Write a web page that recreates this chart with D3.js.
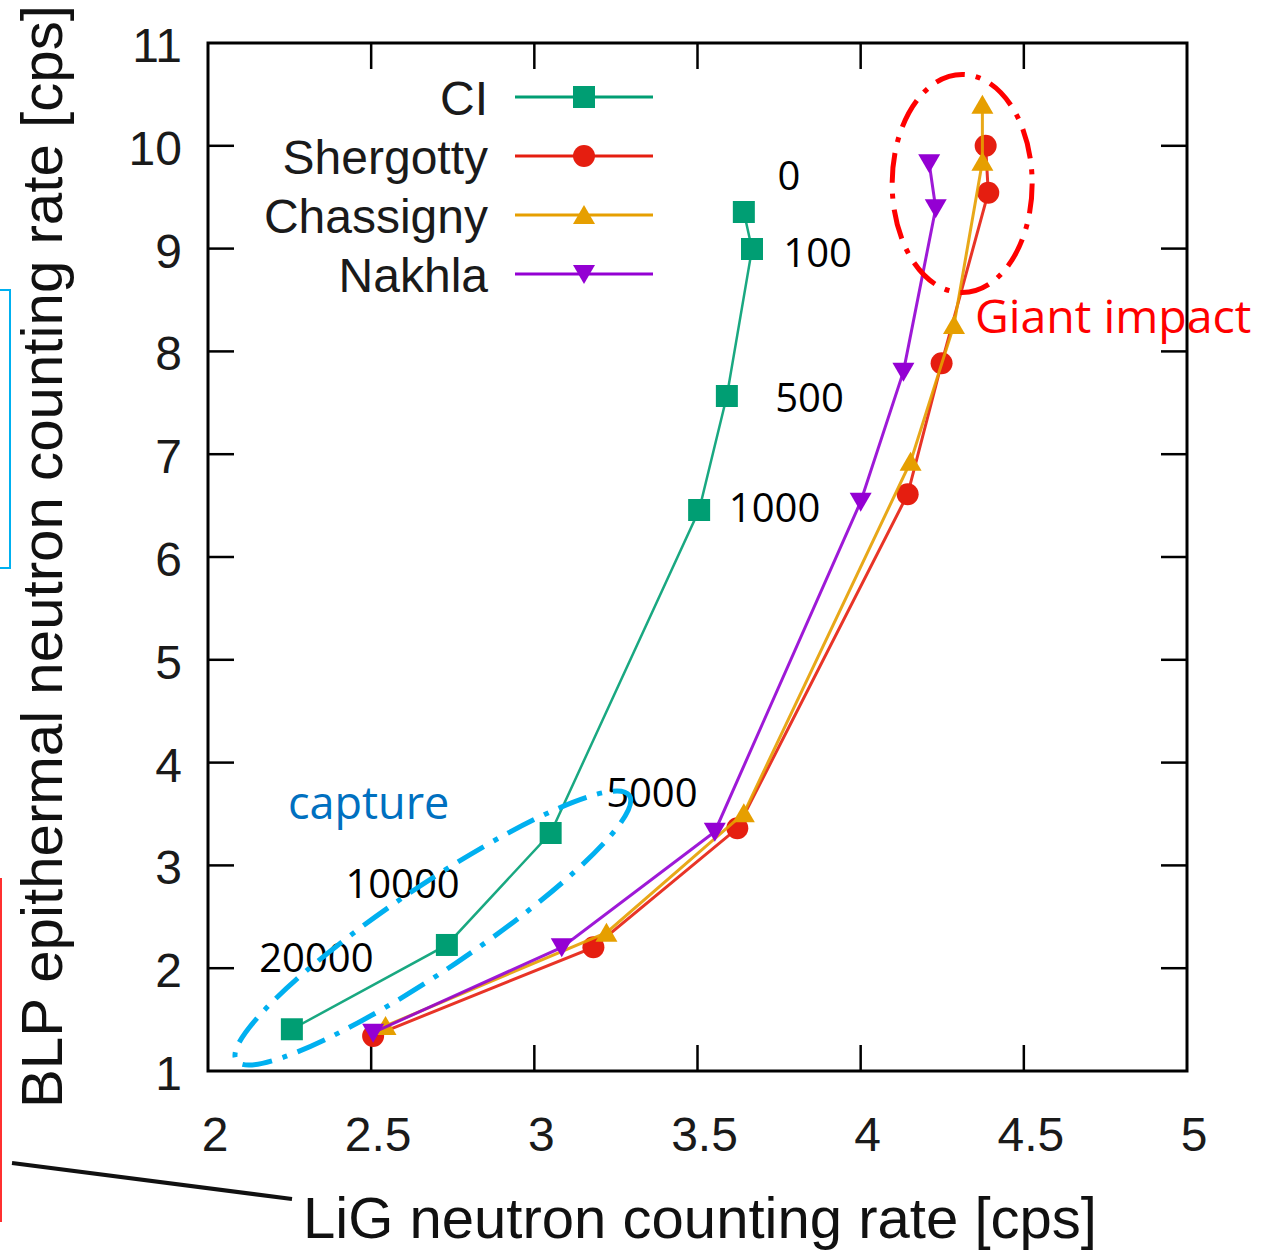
<!DOCTYPE html>
<html>
<head>
  <meta charset="utf-8">
  <script src="https://cdn.jsdelivr.net/npm/d3@7"></script>
  <style>body { margin: 0; background: #fff } svg { display: block }</style>
</head>
<body>
  <div id="chart"></div>

  <script>
    // series (x = LiG cps, y = BLP cps)
    const ciX   = [3.642, 3.667, 3.590, 3.505, 3.050, 2.732, 2.257];
    const ciY   = [9.356, 8.996, 7.566, 6.457, 3.315, 2.226, 1.406];
    const sheX  = [4.383, 4.391, 4.248, 4.144, 3.622, 3.181, 2.506];
    const sheY  = [10.00, 9.544, 7.884, 6.610, 3.361, 2.203, 1.340];
    const chaX  = [4.373, 4.373, 4.286, 4.153, 3.642, 3.221, 2.544];
    const chaY  = [10.40, 9.845, 8.257, 6.927, 3.507, 2.346, 1.438];
    const nakX  = [4.210, 4.230, 4.131, 4.000, 3.553, 3.084, 2.506];
    const nakY  = [9.830, 9.392, 7.803, 6.538, 3.328, 2.203, 1.373];

    const seriesNames  = ['CI', 'Shergotty', 'Chassigny', 'Nakhla'];
    const seriesColors = ['#009E73', '#E51E10', '#E69F00', '#9400D3'];
    const seriesShapes = ['square', 'circle', 'up', 'down'];

    const xTicks = [2, 2.5, 3, 3.5, 4, 4.5, 5];
    const yTicks = [1, 2, 3, 4, 5, 6, 7, 8, 9, 10, 11];

    // depth labels next to the CI points (data coords of text start / baseline)
    const depthText = ['0', '100', '500', '1000', '5000', '10000', '20000'];
    const depthX    = [3.745, 3.763, 3.738, 3.596, 3.220, 2.421, 2.157];
    const depthY    = [9.567, 8.824, 7.410, 6.343, 3.571, 2.680, 1.965];

    const width = 1266, height = 1252;
    const x = d3.scaleLinear().domain([2, 5]).range([208, 1187]);
    const y = d3.scaleLinear().domain([1, 11]).range([1071, 43]);

    const svg = d3.select('#chart').append('svg')
      .attr('width', width).attr('height', height);

    const tickFont = 'Liberation Sans, Arial, sans-serif';
    const noteFont = 'Open Sans, Noto Sans, sans-serif';

    // stray bits of the neighbouring slide
    svg.append('path').attr('d', 'M0,290H10V568H0')
      .attr('fill', 'none').attr('stroke', '#00B0F0').attr('stroke-width', 2);
    svg.append('line').attr('x1', 1).attr('x2', 1).attr('y1', 878).attr('y2', 1222)
      .attr('stroke', '#FF3030').attr('stroke-width', 2);
    svg.append('line').attr('x1', 12).attr('y1', 1163).attr('x2', 292).attr('y2', 1199)
      .attr('stroke', '#111').attr('stroke-width', 4);

    // axes: inward ticks on all four sides
    const tl = 26;
    const axisG = svg.append('g').attr('stroke', '#000').attr('stroke-width', 2.5);
    xTicks.slice(1, -1).forEach(t => {
      axisG.append('line').attr('x1', x(t)).attr('x2', x(t)).attr('y1', y(1)).attr('y2', y(1) - tl);
      axisG.append('line').attr('x1', x(t)).attr('x2', x(t)).attr('y1', y(11)).attr('y2', y(11) + tl);
    });
    yTicks.slice(1, -1).forEach(t => {
      axisG.append('line').attr('x1', x(2)).attr('x2', x(2) + tl).attr('y1', y(t)).attr('y2', y(t));
      axisG.append('line').attr('x1', x(5)).attr('x2', x(5) - tl).attr('y1', y(t)).attr('y2', y(t));
    });
    svg.append('rect')
      .attr('x', x(2)).attr('y', y(11))
      .attr('width', x(5) - x(2)).attr('height', y(1) - y(11))
      .attr('fill', 'none').attr('stroke', '#000').attr('stroke-width', 3);

    svg.append('g').selectAll('text').data(xTicks).join('text')
      .attr('x', d => x(d) + 7).attr('y', 1151)
      .attr('text-anchor', 'middle')
      .attr('font-family', tickFont).attr('font-size', 48).attr('fill', '#1a1a1a')
      .text(d => d);
    svg.append('g').selectAll('text').data(yTicks).join('text')
      .attr('x', 182).attr('y', d => y(d) + 19)
      .attr('text-anchor', 'end')
      .attr('font-family', tickFont).attr('font-size', 48).attr('fill', '#1a1a1a')
      .text(d => d);

    // axis titles
    svg.append('text')
      .attr('x', 303).attr('y', 1238)
      .attr('font-family', tickFont).attr('font-size', 57).attr('fill', '#111')
      .attr('textLength', 794).attr('lengthAdjust', 'spacingAndGlyphs')
      .text('LiG neutron counting rate [cps]');
    svg.append('text')
      .attr('transform', 'translate(62,1108) rotate(-90)')
      .attr('font-family', tickFont).attr('font-size', 58).attr('fill', '#111')
      .attr('textLength', 1103).attr('lengthAdjust', 'spacingAndGlyphs')
      .text('BLP epithermal neutron counting rate [cps]');

    // marker paths centred on the point
    function marker(shape) {
      if (shape === 'square') return 'M-11,-11H11V11H-11Z';
      if (shape === 'circle') return d3.symbol(d3.symbolCircle, 380)();
      if (shape === 'up') return 'M0,-10L11,9H-11Z';
      return 'M0,10L11,-9H-11Z';
    }

    const seriesX = [ciX, sheX, chaX, nakX];
    const seriesY = [ciY, sheY, chaY, nakY];
    const line = d3.line().x(d => x(d[0])).y(d => y(d[1]));

    // draw order: CI, Shergotty, Chassigny, Nakhla
    seriesNames.forEach((name, i) => {
      const pts = seriesX[i].map((v, j) => [v, seriesY[i][j]]);
      const g = svg.append('g');
      g.append('path').attr('d', line(pts))
        .attr('fill', 'none').attr('stroke', seriesColors[i])
        .attr('stroke-width', i === 0 ? 2.5 : 3).attr('stroke-opacity', 0.9);
      g.selectAll('path.pt').data(pts).join('path').attr('class', 'pt')
        .attr('d', marker(seriesShapes[i]))
        .attr('transform', d => `translate(${x(d[0])},${y(d[1])})`)
        .attr('fill', seriesColors[i]);
    });

    // legend
    const legY = [97, 156, 215, 274];
    seriesNames.forEach((name, i) => {
      svg.append('text')
        .attr('x', 488).attr('y', legY[i] + 18)
        .attr('text-anchor', 'end')
        .attr('font-family', tickFont).attr('font-size', 48).attr('fill', '#1a1a1a')
        .text(name);
      svg.append('line').attr('x1', 515).attr('x2', 653).attr('y1', legY[i]).attr('y2', legY[i])
        .attr('stroke', seriesColors[i]).attr('stroke-width', 3);
      svg.append('path').attr('d', marker(seriesShapes[i]))
        .attr('transform', `translate(584,${legY[i]})`)
        .attr('fill', seriesColors[i]);
    });

    // depth labels
    svg.append('g').selectAll('text').data(depthText).join('text')
      .attr('x', (d, i) => x(depthX[i])).attr('y', (d, i) => y(depthY[i]))
      .attr('font-family', noteFont).attr('font-size', 40).attr('fill', '#000')
      .text(d => d);

    // annotation ellipses (dash-dot)
    svg.append('ellipse')
      .attr('cx', x(4.311)).attr('cy', y(9.633)).attr('rx', 70).attr('ry', 109)
      .attr('fill', 'none').attr('stroke', '#FF0000').attr('stroke-width', 5)
      .attr('stroke-dasharray', '30 11 5 11');
    svg.append('ellipse')
      .attr('transform', `translate(${x(2.689)},${y(2.391)}) rotate(-34)`)
      .attr('rx', 237).attr('ry', 42)
      .attr('fill', 'none').attr('stroke', '#00B0F0').attr('stroke-width', 5)
      .attr('stroke-dasharray', '30 11 5 11');

    svg.append('text')
      .attr('x', x(2.245)).attr('y', y(3.449))
      .attr('font-family', noteFont).attr('font-size', 45).attr('fill', '#0070C0')
      .text('capture');
    svg.append('text')
      .attr('x', x(4.350)).attr('y', y(8.176))
      .attr('font-family', noteFont).attr('font-size', 46.5).attr('fill', '#FF0000')
      .text('Giant impact');
  </script>
</body>
</html>
